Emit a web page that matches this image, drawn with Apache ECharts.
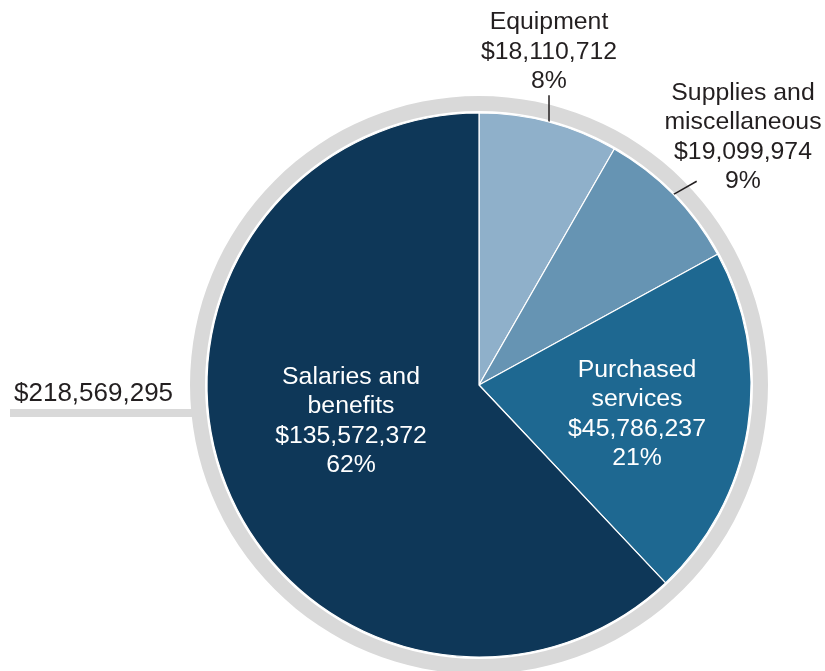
<!DOCTYPE html>
<html>
<head>
<meta charset="utf-8">
<script src="https://cdn.jsdelivr.net/npm/echarts@6/dist/echarts.min.js"></script>
<style>
html,body{margin:0;padding:0;background:#fff;}
#chart{width:825px;height:671px;}
</style>
</head>
<body>
<div id="chart"></div>
<script>
const categories = ['Equipment', 'Supplies and\nmiscellaneous', 'Purchased\nservices', 'Salaries and\nbenefits'];
const values = [18110712, 19099974, 45786237, 135572372];
const colors = ['#8fb0ca', '#6694b3', '#1e6891', '#0e3758'];
const labelCenters = [[549, 52], [743, 137], [637, 414], [351, 421]];

const total = values.reduce((a, b) => a + b, 0);
const fmt = v => '$' + v.toLocaleString('en-US');
const FONT = '"Liberation Sans", Arial, Helvetica, sans-serif';

const chart = echarts.init(document.getElementById('chart'));
const data = categories.map((c, i) => {
  const outside = i < 2;
  return {
    name: c,
    value: values[i],
    itemStyle: { color: colors[i] },
    label: {
      position: outside ? 'outside' : 'inside',
      color: outside ? '#231f20' : '#ffffff'
    },
    labelLine: { show: outside }
  };
});

chart.setOption({
  animation: false,
  title: {
    text: fmt(total),
    left: 9,
    top: 376,
    textStyle: { fontFamily: FONT, fontSize: 26, fontWeight: 'normal', color: '#231f20' }
  },
  graphic: [{
    type: 'rect',
    shape: { x: 10, y: 409, width: 190, height: 8 },
    style: { fill: '#d9d9d9' },
    z: 0
  }],
  series: [
    {
      type: 'pie',
      silent: true,
      center: [479, 385],
      radius: [274, 289],
      startAngle: 90,
      label: { show: false },
      labelLine: { show: false },
      itemStyle: { color: '#d9d9d9', borderWidth: 0 },
      data: [{ name: 'total', value: total }],
      z: 1
    },
    {
      type: 'pie',
      center: [479, 385],
      radius: 272,
      startAngle: 90,
      clockwise: true,
      percentPrecision: 0,
      avoidLabelOverlap: false,
      itemStyle: { borderColor: '#ffffff', borderWidth: 1.2 },
      label: {
        show: true,
        fontFamily: FONT,
        fontSize: 24.8,
        lineHeight: 29.5,
        align: 'center',
        formatter: p => p.name + '\n' + fmt(p.value) + '\n' + p.percent + '%'
      },
      labelLine: {
        show: true,
        length: 26,
        length2: 0,
        smooth: false,
        lineStyle: { color: '#231f20', width: 1.5 }
      },
      labelLayout: function (params) {
        const c = labelCenters[params.dataIndex];
        const out = { x: c[0], y: c[1], align: 'center', verticalAlign: 'middle' };
        if (params.labelLinePoints) {
          const p0 = params.labelLinePoints[0];
          const tx = c[0], ty = c[1] + 18;
          const dx = tx - p0[0], dy = ty - p0[1];
          const len = Math.sqrt(dx * dx + dy * dy);
          const L = 27;
          const p1 = [p0[0] + dx / len * L, p0[1] + dy / len * L];
          out.labelLinePoints = [p0, p1, p1];
        }
        return out;
      },
      data: data,
      z: 2
    }
  ]
});
</script>
</body>
</html>
